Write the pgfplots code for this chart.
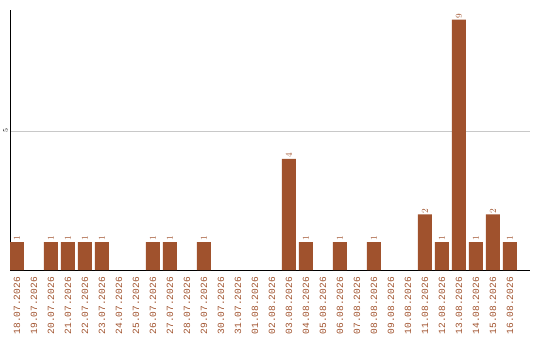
\documentclass[border=0pt]{standalone}
\usepackage{fontspec}
\usepackage{pgfplots}
\pgfplotsset{compat=1.18}
\setmonofont{Liberation Mono}
\definecolor{barbrown}{HTML}{A0522D}
\definecolor{gridgray}{HTML}{C8C8C8}

\begin{document}
\begin{tikzpicture}
\begin{axis}[
  scale only axis,
  width=520pt, height=260pt,
  xmin=-0.41, xmax=30.18,
  ymin=0, ymax=9.35,
  axis x line=bottom, axis y line=left,
  axis line style={black, line width=1pt, -},
  xtick={0,...,29},
  xticklabels={18.07.2026,19.07.2026,20.07.2026,21.07.2026,22.07.2026,23.07.2026,24.07.2026,25.07.2026,26.07.2026,27.07.2026,28.07.2026,29.07.2026,30.07.2026,31.07.2026,01.08.2026,02.08.2026,03.08.2026,04.08.2026,05.08.2026,06.08.2026,07.08.2026,08.08.2026,09.08.2026,10.08.2026,11.08.2026,12.08.2026,13.08.2026,14.08.2026,15.08.2026,16.08.2026},
  xticklabel style={rotate=90, anchor=east, text=barbrown, font=\ttfamily\fontsize{9.5}{9.5}\selectfont, inner sep=0pt, xshift=-7pt},
  ytick={5},
  yticklabel style={rotate=90, anchor=south, font=\ttfamily\fontsize{7.5}{7.5}\selectfont, inner sep=0pt, yshift=2pt},
  major tick length=0pt,
  ymajorgrids,
  major grid style={gridgray, line width=0.8pt},
  nodes near coords,
  every node near coord/.append style={rotate=90, anchor=west, text=barbrown, font=\ttfamily\fontsize{9}{9}\selectfont, inner sep=1pt},
]
\addplot[ybar, bar width=14pt, fill=barbrown, draw=none] coordinates {
  (0,1) (2,1) (3,1) (4,1) (5,1) (8,1) (9,1) (11,1)
  (16,4) (17,1) (19,1) (21,1) (24,2) (25,1) (26,9) (27,1) (28,2) (29,1)
};
\end{axis}
\path (current axis.south west) ++(-10pt,-70pt) rectangle ([shift={(10pt,10pt)}]current axis.north east);
\end{tikzpicture}
\end{document}
